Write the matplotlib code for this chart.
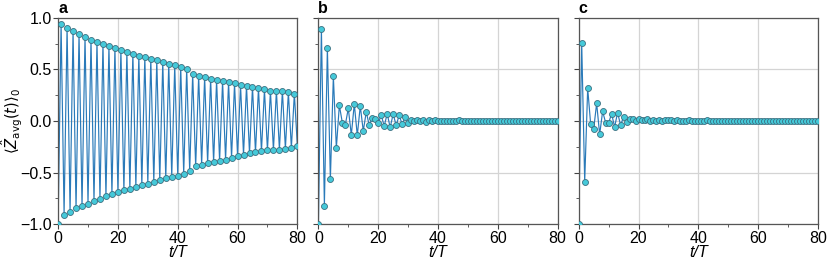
import matplotlib.pyplot as plt
import numpy as np
from matplotlib.ticker import MultipleLocator

plt.rcParams["font.family"] = ["Liberation Sans", "DejaVu Sans"]
plt.rcParams["mathtext.fontset"] = "dejavusans"

# panel a: envelope of the odd (positive) and even (negative) periods
a_top = [0.945, 0.905, 0.875, 0.845, 0.815, 0.79, 0.768, 0.75, 0.725, 0.708,
         0.688, 0.668, 0.655, 0.635, 0.622, 0.602, 0.592, 0.572, 0.556, 0.54,
         0.522, 0.506, 0.458, 0.437, 0.427, 0.41, 0.398, 0.388, 0.377, 0.365,
         0.35, 0.342, 0.332, 0.32, 0.307, 0.293, 0.296, 0.294, 0.28, 0.265]
a_bottom = [-0.908, -0.879, -0.846, -0.827, -0.80, -0.775, -0.752, -0.729, -0.706, -0.686,
            -0.673, -0.657, -0.64, -0.624, -0.608, -0.591, -0.572, -0.555, -0.539, -0.529,
            -0.51, -0.487, -0.441, -0.422, -0.408, -0.399, -0.389, -0.376, -0.356, -0.337,
            -0.327, -0.314, -0.304, -0.294, -0.284, -0.281, -0.278, -0.268, -0.261, -0.239]

b_vals = [-1.0, 0.896, -0.82, 0.708, -0.565, 0.435, -0.263, 0.153, -0.016, -0.036,
          0.123, -0.136, 0.166, -0.14, 0.146, -0.097, 0.088, -0.042, 0.03, 0.023,
          -0.023, 0.058, -0.049, 0.071, -0.062, 0.068, -0.042, 0.055, -0.03, 0.036,
          -0.016, 0.008, 0.004, 0.006, -0.004, 0.01, -0.005, 0.008, -0.002, 0.006,
          -0.003, 0.004, -0.002, 0.005, -0.004, 0.004, -0.003, 0.006, -0.002, 0.003,
          -0.004, 0.002, -0.003, 0.004, -0.002, 0.003, -0.001, 0.002, -0.002, 0.003,
          -0.001, 0.002, -0.002, 0.001, -0.002, 0.002, -0.001, 0.002, -0.001, 0.001,
          -0.002, 0.002, -0.001, 0.003, -0.002, 0.001, -0.004, 0.002, 0.003, 0.001, 0.002]

c_vals = [-1.0, 0.76, -0.588, 0.318, -0.032, -0.078, 0.172, -0.13, 0.094, -0.016,
          -0.019, 0.071, -0.058, 0.081, -0.039, 0.039, -0.01, 0.016, 0.02, 0.004,
          0.018, 0.006, 0.01, 0.016, 0.002, 0.014, 0.003, 0.01, -0.002, 0.008,
          0.006, 0.007, 0.004, 0.006, 0.002, 0.004, -0.001, 0.006, 0.004, 0.005,
          0.003, -0.002, 0.004, 0.006, 0.003, 0.004, 0.003, 0.002, 0.004, 0.003,
          0.002, 0.003, 0.002, 0.003, 0.002, 0.003, 0.002, 0.002, 0.003, 0.002,
          0.003, 0.002, 0.002, 0.003, 0.002, 0.002, 0.003, 0.002, 0.002, 0.002,
          0.001, 0.002, 0.002, 0.001, 0.003, 0.002, 0.002, 0.001, 0.002, 0.002, 0.002]

a_vals = [-1.0]
for up, dn in zip(a_top, a_bottom):
    a_vals += [up, dn]

panels = [("a", a_vals), ("b", b_vals), ("c", c_vals)]

fig, axes = plt.subplots(1, 3, figsize=(8.3, 2.6), dpi=100, sharey=True)
fig.subplots_adjust(left=0.07, right=0.9855, top=0.931, bottom=0.138, wspace=0.088)

for ax, (name, vals) in zip(axes, panels):
    t = np.arange(len(vals))
    ax.plot(t, vals, color="#2a7ab9", lw=0.85, zorder=2)
    ax.plot(t, vals, ls="none", marker="o", ms=4.3, mfc="#45c9d9",
            mec="#3b6f80", mew=0.6, zorder=3)
    ax.set_xlim(0, 80)
    ax.set_ylim(-1, 1)
    ax.xaxis.set_major_locator(MultipleLocator(20))
    ax.xaxis.set_minor_locator(MultipleLocator(10))
    ax.yaxis.set_major_locator(MultipleLocator(0.5))
    ax.yaxis.set_minor_locator(MultipleLocator(0.25))
    ax.grid(True, which="major", color="#d4d4d4", lw=0.9, zorder=0)
    ax.set_axisbelow(True)
    ax.tick_params(which="major", labelsize=11.5, length=3.5, width=0.8,
                   color="#444444", pad=1.2)
    ax.tick_params(which="minor", length=2, width=0.6, color="#444444")
    for sp in ax.spines.values():
        sp.set_color("#555555")
        sp.set_linewidth(0.9)
    ax.set_xlabel("t/T", fontsize=11.5, style="italic")
    ax.xaxis.set_label_coords(0.5, -0.1)
    ax.text(0.0, 1.022, name, transform=ax.transAxes, fontsize=11.5,
            fontweight="bold", ha="left", va="baseline")
    if name != "a":
        ax.tick_params(labelleft=False)

axes[0].set_ylabel(r"$\langle\hat{Z}_{\mathrm{avg}}(t)\rangle_0$", fontsize=10.5)
axes[0].yaxis.set_label_coords(-0.14, 0.5)

plt.savefig("out.png", dpi=100)
plt.close()
